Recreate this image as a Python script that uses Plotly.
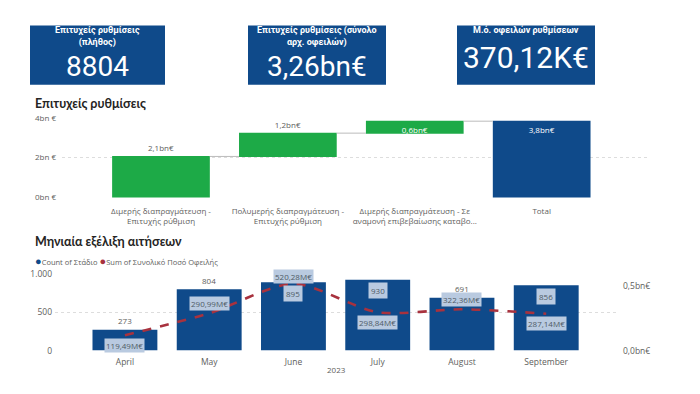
import plotly.graph_objects as go

W, H = 700, 394

# ---------------- data ----------------
kpi_titles = ["Επιτυχείς ρυθμίσεις<br>(πλήθος)",
              "Επιτυχείς ρυθμίσεις (σύνολο<br>αρχ. οφειλών)",
              "Μ.ό. οφειλών ρυθμίσεων"]
kpi_values = ["8804", "3,26bn€", "370,12K€"]

wf_categories = ["Διμερής διαπραγμάτευση -<br>Επιτυχής ρύθμιση",
                 "Πολυμερής διαπραγμάτευση -<br>Επιτυχής ρύθμιση",
                 "Διμερής διαπραγμάτευση - Σε<br>αναμονή επιβεβαίωσης καταβο...",
                 "Total"]
wf_values = [2.06, 1.17, 0.60, 0]          # bn €
wf_measures = ["relative", "relative", "relative", "total"]
wf_labels = ["2,1bn€", "1,2bn€", "0,6bn€", "3,8bn€"]
wf_ticks = [0, 2, 4]
wf_ticktext = ["0bn €", "2bn €", "4bn €"]

months = ["April", "May", "June", "July", "August", "September"]
counts = [273, 804, 895, 930, 691, 856]
amounts = [119.49, 290.99, 520.28, 298.84, 322.36, 287.14]   # M€
amount_labels = ["119,49M€", "290,99M€", "520,28M€", "298,84M€", "322,36M€", "287,14M€"]
count_ticks = [0, 500, 1000]
count_ticktext = ["0", "500", "1.000"]
amount_ticks = [0, 500]
amount_ticktext = ["0,0bn€", "0,5bn€"]

# ---------------- styles ----------------
BLUE = "#0F4A8A"
GREEN = "#1DAA47"
RED = "#A8323E"
GREY = "#605E5C"
FONT = "Open Sans"
TITLE_FONT = "Lato"
BOX = "#B9CAE0"

def px(x):
    return x / W

def py(y):
    return 1 - y / H

fig = go.Figure()

# ---------------- waterfall ----------------
fig.add_trace(go.Waterfall(
    x=wf_categories, y=wf_values, measure=wf_measures,
    text=wf_labels,
    textposition=["outside", "outside", "inside", "inside"],
    insidetextanchor="end", constraintext="none",
    insidetextfont=dict(color="white", size=8, family=FONT),
    outsidetextfont=dict(color=GREY, size=8, family=FONT),
    increasing=dict(marker=dict(color=GREEN)),
    totals=dict(marker=dict(color=BLUE)),
    connector=dict(line=dict(color="#BBBBBB", width=1)),
    width=0.77, cliponaxis=False,
    xaxis="x", yaxis="y", showlegend=False, hoverinfo="skip",
))

# ---------------- combo chart ----------------
fig.add_trace(go.Bar(
    x=months, y=counts, marker=dict(color=BLUE, line=dict(width=0)),
    width=0.77, xaxis="x2", yaxis="y2", showlegend=False, hoverinfo="skip",
))
fig.add_trace(go.Scatter(
    x=months, y=amounts, mode="lines",
    line=dict(color=RED, width=2.6, dash="dash", shape="spline", smoothing=0.8),
    xaxis="x2", yaxis="y3", showlegend=False, hoverinfo="skip",
))

# count labels
for m, c in zip(months, counts):
    inside = c > 850
    if inside:
        fig.add_annotation(x=m, y=c, xref="x2", yref="y2", text=str(c),
                           showarrow=False, yshift=-11, bgcolor=BOX,
                           font=dict(size=8, color="#4F5B66", family=FONT),
                           borderpad=2)
    else:
        fig.add_annotation(x=m, y=c, xref="x2", yref="y2", text=str(c),
                           showarrow=False, yshift=9,
                           font=dict(size=8, color=GREY, family=FONT))

# amount labels
label_side = [-1, 1, 1, -1, 1, -1]
for m, a, t, s in zip(months, amounts, amount_labels, label_side):
    fig.add_annotation(x=m, y=a, xref="x2", yref="y3", text=t,
                       showarrow=False, yshift=10 * s if s < 0 else (7 if a > 500 else 10),
                       bgcolor=BOX, borderpad=1,
                       font=dict(size=8, color="#4F5B66", family=FONT))

# ---------------- KPI cards ----------------
cards = [(30, 165, 20, 81), (248, 386, 20, 81), (457, 595, 20, 81)]
value_sizes = [28, 28, 30]
title_heights = [2, 2, 1]
for (x0, x1, y0, y1), t, v, vs, th in zip(cards, kpi_titles, kpi_values, value_sizes, title_heights):
    fig.add_shape(type="rect", xref="paper", yref="paper",
                  x0=px(x0), x1=px(x1), y0=py(y1), y1=py(y0),
                  fillcolor=BLUE, line=dict(width=0), layer="below")
    fig.add_annotation(xref="paper", yref="paper", x=px((x0 + x1) / 2), y=py(y0 - 1),
                       text="<b>" + t + "</b>", showarrow=False, xanchor="center",
                       font=dict(size=9, color="white", family="Roboto"),
                       yanchor="top", borderpad=0)
    fig.add_annotation(xref="paper", yref="paper", x=px((x0 + x1) / 2),
                       y=py(y1 - 1 if th == 2 else y1 - 9),
                       text=v, showarrow=False, xanchor="center",
                       font=dict(size=vs, color="white", family="Roboto"),
                       yanchor="bottom", borderpad=0)

# ---------------- titles / legend ----------------
fig.add_annotation(xref="paper", yref="paper", x=px(33), y=py(100), xanchor="left",
                   yanchor="middle", text="<b>Επιτυχείς ρυθμίσεις</b>", showarrow=False,
                   font=dict(size=12.5, color="#252423", family=TITLE_FONT))
fig.add_annotation(xref="paper", yref="paper", x=px(33), y=py(242), xanchor="left",
                   yanchor="middle", text="<b>Μηνιαία εξέλιξη αιτήσεων</b>", showarrow=False,
                   font=dict(size=12.5, color="#252423", family=TITLE_FONT))
fig.add_annotation(xref="paper", yref="paper", x=px(33), y=py(262), xanchor="left",
                   yanchor="middle",
                   text=f"<span style='color:{BLUE};font-size:11px'>●</span>Count of Στάδιο "
                        f"<span style='color:{RED};font-size:11px'>●</span>Sum of Συνολικό Ποσό Οφειλής",
                   showarrow=False, font=dict(size=7.5, color=GREY, family=FONT))
fig.add_annotation(xref="paper", yref="paper", x=px(336), y=py(374), yanchor="middle",
                   xanchor="center",
                   text="2023", showarrow=False, font=dict(size=8, color=GREY, family=FONT))

axis_font = dict(size=8, color=GREY, family=FONT)
grid = dict(showgrid=True, gridcolor="#DDDDDD", griddash="dot", gridwidth=1)

fig.update_layout(
    width=W, height=H, margin=dict(l=0, r=0, t=0, b=0),
    paper_bgcolor="white", plot_bgcolor="white",
    bargap=0.23,
    xaxis=dict(domain=[px(62), px(647)], anchor="y", range=[-0.78, 3.83],
               showgrid=False, zeroline=False, showline=False, ticks="",
               tickfont=axis_font, fixedrange=True, ticklabelstandoff=7),
    yaxis=dict(domain=[py(197), py(115)], anchor="x", range=[0, 4],
               tickvals=wf_ticks, ticktext=wf_ticktext, tickfont=axis_font,
               zeroline=False, showline=False, ticks="", ticklabelstandoff=5, **grid),
    xaxis2=dict(domain=[px(55), px(617)], anchor="y2", range=[-0.83, 5.84],
                showgrid=False, zeroline=False, showline=False, ticks="",
                tickfont=dict(size=8.5, color=GREY, family=FONT), ticklabelstandoff=5),
    yaxis2=dict(domain=[py(354.5), py(276)], anchor="x2", range=[0, 1000],
                tickvals=count_ticks, ticktext=count_ticktext,
                tickfont=dict(size=8.5, color=GREY, family=FONT),
                zeroline=False, showline=False, ticks="", ticklabelstandoff=2, **grid),
    yaxis3=dict(overlaying="y2", side="right", anchor="x2", range=[0, 595],
                tickvals=amount_ticks, ticktext=amount_ticktext,
                tickfont=dict(size=8.5, color=GREY, family=FONT),
                showgrid=False, zeroline=False, showline=False, ticks="",
                ticklabelstandoff=5),
)

fig.write_html("out.html")
